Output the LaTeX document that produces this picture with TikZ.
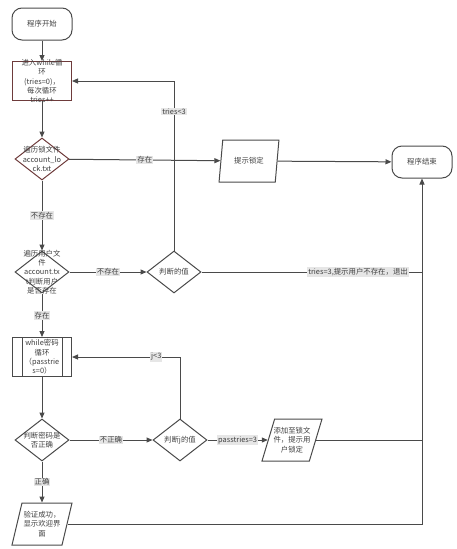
\documentclass[tikz,border=0pt]{standalone}
\usepackage{fontspec}
\setmainfont{Noto Sans CJK SC}
\usetikzlibrary{shapes.geometric, arrows.meta, positioning, calc}

\definecolor{edgegray}{HTML}{4A4A4A}
\definecolor{lockred}{HTML}{6E3B3B}
\definecolor{labelbg}{HTML}{E6E6E6}

\begin{document}
\begin{tikzpicture}[
      x=1pt, y=-1pt,
      every node/.style={font=\fontsize{7.4}{9.3}\selectfont, text=black!75},
      terminal/.style={draw=edgegray, line width=1pt, rectangle, rounded corners=10pt, minimum width=60pt, minimum height=32pt},
      block/.style={draw=edgegray, line width=1pt, rectangle, minimum width=59pt, minimum height=39pt, inner sep=0pt},
      decision/.style={draw=edgegray, line width=1pt, diamond, minimum width=54pt, minimum height=42pt, inner sep=0pt},
      io/.style={draw=edgegray, line width=1pt, trapezium, trapezium left angle=76, trapezium right angle=104, trapezium stretches=true, minimum width=60pt, minimum height=42pt, inner sep=1pt},
      inside/.style={align=center, inner sep=0pt},
      tag/.style={fill=labelbg, inner sep=1pt},
      line/.style={draw=edgegray, line width=1pt, -{Triangle[length=6pt, width=5pt]}},
      merge/.style={draw=edgegray, line width=1pt}
  ]
      \useasboundingbox (0,0) rectangle (457,549);

      % Left column: start and first loop
      \node [terminal] (start) at (42, 24) {程序开始};
      \node [block, draw=lockred, label={[inside]center:{进入while循\\环\\(tries=0)，\\每次循环\\tries++}}] (loop) at (42, 81) {};

      % Lock file check
      \node [decision, draw=lockred, label={[inside]center:{遍历锁文件\\account\_lo\\ck.txt}}] (lockchk) at (42, 159) {};
      \node [io] (locked) at (249, 161) {提示锁定};
      \node [terminal] (end) at (422, 162) {程序结束};

      % User file check
      \node [decision, label={[inside]center:{遍历用户文\\件\\account.tx\\t判断用户\\是否存在}}] (userchk) at (42, 272) {};
      \node [decision] (triesval) at (174, 272) {判断的值};

      % Password loop
      \node [block, label={[inside]center:{while密码\\循环\\（passtrie\\s=0）}}] (pwloop) at (42, 357) {};
      \draw [edgegray, line width=1pt] ([xshift=10pt]pwloop.north west) -- ([xshift=10pt]pwloop.south west);
      \draw [edgegray, line width=1pt] ([xshift=-10pt]pwloop.north east) -- ([xshift=-10pt]pwloop.south east);

      % Password check
      \node [decision, label={[inside]center:{判断密码是\\否正确}}] (pwchk) at (42, 440) {};
      \node [decision] (jval) at (180, 440) {判断j的值};
      \node [io, trapezium left angle=70, trapezium right angle=110, label={[inside]center:{添加至锁文\\件，提示用\\户锁定}}] (addlock) at (292, 440) {};
      \node [io, label={[inside]center:{验证成功，\\显示欢迎界\\面}}] (welcome) at (42, 524) {};

      % Connections
      \path [line] (start) -- (loop);
      \path [line] (loop) -- (lockchk);
      \path [line] (lockchk) -- node[tag] {存在} (locked);
      \path [line] (locked) -- (end);
      \path [line] (lockchk) -- node[tag] {不存在} (userchk);
      \path [line] (userchk) -- node[tag] {不存在} (triesval);
      \path [line] (triesval.north) |- node[tag, pos=0.41] {tries<3} (loop.east);
      \path [merge] (triesval) -- node[tag, pos=0.71] {tries=3,提示用户不存在，退出} (triesval -| end);
      \path [line] (userchk) -- node[tag] {存在} (pwloop);
      \path [line] (pwloop) -- (pwchk);
      \path [line] (pwchk) -- node[tag] {不正确} (jval);
      \path [line] (jval.north) |- node[tag, pos=0.61] {j<3} (pwloop.east);
      \path [line] (jval) -- node[tag] {passtries=3} (addlock);
      \path [merge] (addlock) -- (addlock -| end);
      \path [line] (pwchk) -- node[tag] {正确} (welcome);
      \path [line] (welcome) -| (end);
  \end{tikzpicture}
\end{document}
